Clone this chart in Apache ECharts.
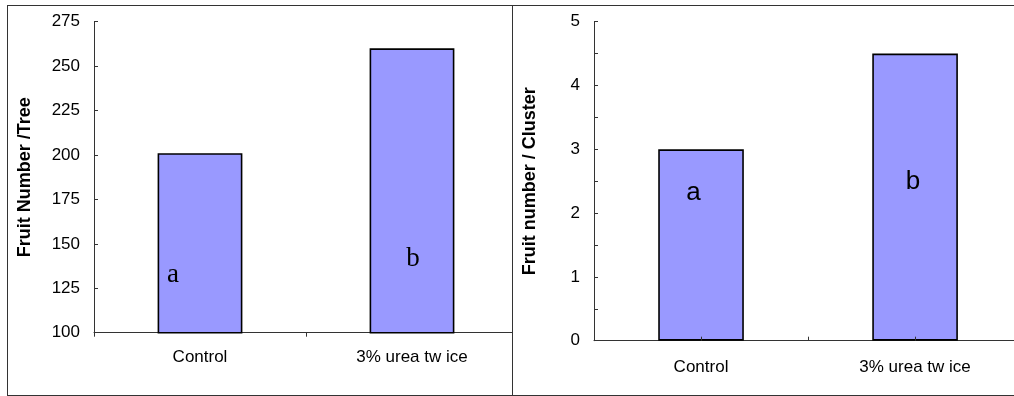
<!DOCTYPE html>
<html>
<head>
<meta charset="utf-8">
<script src="https://cdn.jsdelivr.net/npm/echarts@6/dist/echarts.min.js"></script>
<style>
  html, body { margin: 0; padding: 0; width: 1014px; height: 396px; overflow: hidden; background: #fff; }
  .panel { position: absolute; top: 5px; height: 391px; box-sizing: border-box; overflow: hidden; background: #fff; }
  #leftPanel { left: 7px; width: 506px; border: 1px solid #333; }
  #rightPanel { left: 513px; width: 520px; border-top: 1px solid #333; border-bottom: 1px solid #333; }
  .chart { position: absolute; left: 0; top: 0; width: 540px; height: 389px; }
</style>
</head>
<body>
<div id="leftPanel" class="panel"><div id="leftChart" class="chart"></div></div>
<div id="rightPanel" class="panel"><div id="rightChart" class="chart"></div></div>
<script>
// Treatments
const categories = ['Control', '3% urea tw ice'];

// Fruit number per tree
const fruitPerTree = [201, 260];
const treeLetters = ['a', 'b'];
const treeTicks = { min: 100, max: 275, interval: 25 };

// Fruit number per cluster
const fruitPerCluster = [3, 4.5];
const clusterLetters = ['a', 'b'];
const clusterTicks = { min: 0, max: 5, interval: 1 };

const SANS = '"Liberation Sans", Arial, sans-serif';
const SERIF = '"Liberation Serif", "Times New Roman", serif';
const BAR_FILL = '#9999ff';
const TEXT_SIZE = 17;
const TITLE_SIZE = 18;

function barData(values, letters, labelStyle, offsets) {
  return values.map((v, i) => ({
    value: v,
    label: {
      show: true,
      position: 'inside',
      formatter: letters[i],
      offset: offsets[i],
      ...labelStyle
    }
  }));
}

function buildOption(cfg) {
  const xAxes = [{
    type: 'category',
    data: categories,
    position: 'bottom',
    axisLine: { show: true, lineStyle: { color: '#333', width: 1 } },
    axisTick: { show: true, inside: cfg.xTickInside, length: 4, lineStyle: { color: '#333' } },
    axisLabel: { color: '#000', fontFamily: SANS, fontSize: TEXT_SIZE, margin: cfg.xLabelMargin }
  }];
  if (cfg.centerTicks) {
    // short inward ticks under each bar centre
    xAxes.push({
      type: 'category',
      data: categories,
      position: 'bottom',
      axisLine: { show: false },
      axisTick: { show: true, inside: true, length: 4, alignWithLabel: true, lineStyle: { color: '#333' } },
      axisLabel: { show: false },
      z: 5
    });
  }
  return {
    animation: false,
    grid: { left: cfg.grid.left, top: cfg.grid.top, width: cfg.grid.width, height: cfg.grid.height },
    xAxis: xAxes,
    yAxis: {
      type: 'value',
      min: cfg.ticks.min,
      max: cfg.ticks.max,
      interval: cfg.ticks.interval,
      name: cfg.yName,
      nameLocation: 'middle',
      nameGap: cfg.nameGap,
      nameTextStyle: { color: '#000', fontFamily: SANS, fontSize: TITLE_SIZE, fontWeight: 'bold' },
      axisLine: { show: true, lineStyle: { color: '#333', width: 1 } },
      axisTick: { show: true, inside: true, length: 4, lineStyle: { color: '#333' } },
      minorTick: { show: cfg.minor, splitNumber: 2, length: 4, lineStyle: { color: '#333' } },
      axisLabel: { color: '#000', fontFamily: SANS, fontSize: TEXT_SIZE, margin: 14 },
      splitLine: { show: false }
    },
    series: [{
      type: 'bar',
      xAxisIndex: 0,
      barWidth: '40%',
      itemStyle: { color: BAR_FILL, borderColor: '#000', borderWidth: 1.6 },
      data: barData(cfg.values, cfg.letters, cfg.labelStyle, cfg.labelOffsets)
    }]
  };
}

// Left panel: per-tree counts, serif letters
const leftChart = echarts.init(document.getElementById('leftChart'), null, { renderer: 'canvas' });
leftChart.setOption(buildOption({
  grid: { left: 86, top: 15.7, width: 424, height: 311 },
  ticks: treeTicks,
  values: fruitPerTree,
  letters: treeLetters,
  yName: 'Fruit Number /Tree',
  nameGap: 60,
  minor: false,
  xTickInside: false,
  xLabelMargin: 16,
  centerTicks: false,
  labelStyle: { color: '#000', fontFamily: SERIF, fontSize: 27 },
  labelOffsets: [[-27, 32], [1, 68]]
}));

// Right panel: per-cluster counts, sans letters
const rightChart = echarts.init(document.getElementById('rightChart'), null, { renderer: 'canvas' });
rightChart.setOption(buildOption({
  grid: { left: 79.7, top: 15.7, width: 429.4, height: 319 },
  ticks: clusterTicks,
  values: fruitPerCluster,
  letters: clusterLetters,
  yName: 'Fruit number / Cluster',
  nameGap: 55,
  minor: true,
  xTickInside: true,
  xLabelMargin: 18,
  centerTicks: true,
  labelStyle: { color: '#000', fontFamily: SANS, fontSize: 26 },
  labelOffsets: [[-7.5, -52.5], [-2, -15]]
}));
</script>
</body>
</html>
